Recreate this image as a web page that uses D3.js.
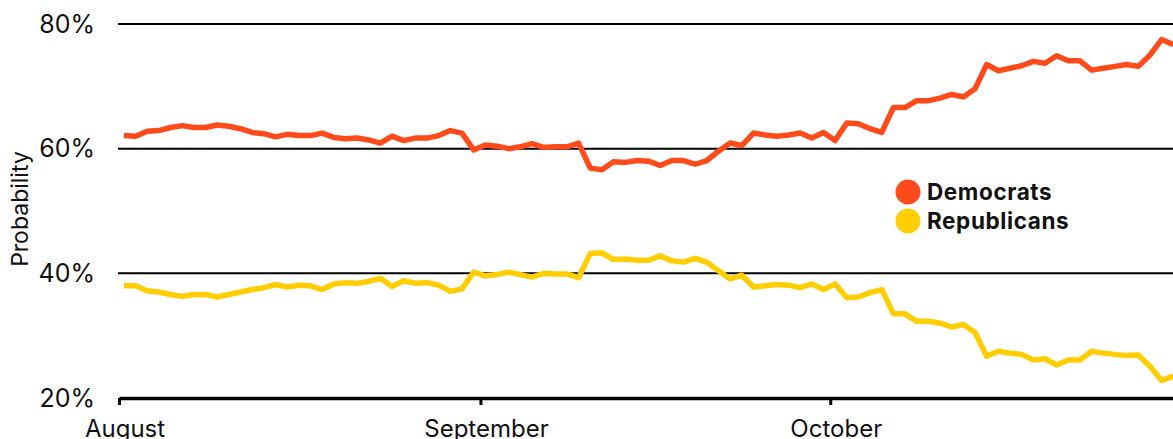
<!DOCTYPE html>
<html>
<head>
<meta charset="utf-8">
<script src="https://cdn.jsdelivr.net/npm/d3@7"></script>
<style>
  body { margin: 0; background: #fff; }
  svg { display: block; font-family: Inter, "Noto Sans", sans-serif; }
</style>
</head>
<body>
<div id="chart"></div>
<script>
const width = 1173;
const height = 439;
const margin = { top: 24, right: 0, bottom: 41, left: 119 };

// daily readings, Aug 1 -> Oct 30
const firstDay = "2020-08-01";
const lastDay = "2020-10-31"; // exclusive

const democrats = [
  62.1, 62.0, 62.8, 62.9, 63.4, 63.7, 63.4, 63.4, 63.8, 63.6,
  63.2, 62.6, 62.4, 61.9, 62.3, 62.1, 62.1, 62.5, 61.8, 61.6,
  61.7, 61.4, 60.9, 62.0, 61.3, 61.7, 61.7, 62.1, 62.9, 62.5,
  59.8, 60.6, 60.4, 60.0, 60.3, 60.8, 60.2, 60.3, 60.3, 60.9,
  56.9, 56.6, 57.9, 57.8, 58.1, 58.0, 57.3, 58.1, 58.1, 57.5,
  58.1, 59.6, 60.9, 60.5, 62.5, 62.2, 62.0, 62.2, 62.5, 61.7,
  62.6, 61.3, 64.1, 64.0, 63.2, 62.6, 66.6, 66.6, 67.7, 67.7,
  68.1, 68.7, 68.3, 69.6, 73.5, 72.5, 72.9, 73.3, 74.0, 73.7,
  74.9, 74.1, 74.1, 72.6, 72.9, 73.2, 73.5, 73.2, 75.0, 77.5,
  76.7
];

const republicans = [
  38.0, 38.0, 37.2, 37.0, 36.6, 36.3, 36.6, 36.6, 36.2, 36.6,
  37.0, 37.4, 37.7, 38.2, 37.8, 38.1, 38.0, 37.4, 38.3, 38.5,
  38.4, 38.7, 39.2, 37.9, 38.8, 38.4, 38.5, 38.1, 37.1, 37.5,
  40.2, 39.6, 39.8, 40.2, 39.8, 39.4, 40.0, 39.9, 39.9, 39.3,
  43.2, 43.3, 42.2, 42.3, 42.1, 42.1, 42.8, 42.0, 41.8, 42.4,
  41.8, 40.4, 39.1, 39.7, 37.8, 38.0, 38.2, 38.1, 37.7, 38.3,
  37.4, 38.3, 36.1, 36.2, 36.9, 37.4, 33.5, 33.5, 32.3, 32.3,
  32.0, 31.4, 31.8, 30.5, 26.7, 27.5, 27.2, 27.0, 26.1, 26.3,
  25.3, 26.1, 26.1, 27.5, 27.2, 27.0, 26.8, 26.9, 25.1, 22.8,
  23.5
];

const yTicks = [20, 40, 60, 80];
const monthTicks = ["2020-08-01", "2020-09-01", "2020-10-01"];
const monthLabels = ["August", "September", "October"];
const seriesNames = ["Democrats", "Republicans"];
const colors = ["#ff4a1a", "#ffcd00"];

const parse = d3.utcParse("%Y-%m-%d");
const days = d3.utcDay.range(parse(firstDay), parse(lastDay))
  .map(d => d3.utcHour.offset(d, 10));

const xScale = d3.scaleUtc()
  .domain([parse("2020-08-01"), parse("2020-11-01")])
  .range([margin.left, margin.left + 92 * 11.66]);

const yScale = d3.scaleLinear()
  .domain([20, 80])
  .range([height - margin.bottom, margin.top]);

const svg = d3.select("#chart")
  .append("svg")
  .attr("width", width)
  .attr("height", height);

// gridlines
svg.append("g")
  .selectAll("line")
  .data(yTicks.filter(t => t > 20))
  .join("line")
  .attr("x1", margin.left - 1)
  .attr("x2", width)
  .attr("y1", d => yScale(d))
  .attr("y2", d => yScale(d))
  .attr("stroke", "#000")
  .attr("stroke-width", 2);

// y labels
const yAxis = d3.axisLeft(yScale)
  .tickValues(yTicks)
  .tickSize(0)
  .tickPadding(24)
  .tickFormat(d => d + "%");

const yAxisGroup = svg.append("g")
  .attr("transform", `translate(${margin.left}, 0)`)
  .call(yAxis);
yAxisGroup.select(".domain").remove();
yAxisGroup.selectAll("text")
  .attr("font-family", "Inter, sans-serif")
  .attr("font-size", 25)
  .attr("fill", "#111");

svg.append("text")
  .attr("transform", `translate(${28}, ${209})rotate(-90)`)
  .attr("text-anchor", "middle")
  .attr("font-size", 23)
  .attr("fill", "#111")
  .text("Probability");

// lines
const line = d3.line()
  .x((d, i) => xScale(days[i]))
  .y(d => yScale(d));

[democrats, republicans].forEach((values, i) => {
  svg.append("path")
    .datum(values)
    .attr("fill", "none")
    .attr("stroke", colors[i])
    .attr("stroke-width", 5.5)
    .attr("stroke-linejoin", "round")
    .attr("d", line);
});

// x axis
const xAxis = d3.axisBottom(xScale)
  .tickValues(monthTicks.map(parse))
  .tickSize(7)
  .tickSizeOuter(0)
  .tickFormat((d, i) => monthLabels[i]);

const xAxisGroup = svg.append("g")
  .attr("transform", `translate(0, ${height - margin.bottom})`)
  .call(xAxis);
xAxisGroup.select(".domain")
  .attr("stroke", "#000")
  .attr("stroke-width", 3.5);
xAxisGroup.selectAll(".tick line")
  .attr("stroke", "#000")
  .attr("stroke-width", 3);
xAxisGroup.selectAll(".tick text")
  .attr("font-family", "Inter, sans-serif")
  .attr("font-size", 24)
  .attr("fill", "#111")
  .attr("dx", 5.5)
  .attr("dy", 0)
  .attr("y", 39);

// legend
const legend = svg.append("g")
  .attr("transform", "translate(908, 192)");

const items = legend.selectAll("g")
  .data(seriesNames)
  .join("g")
  .attr("transform", (d, i) => `translate(0, ${i * 29})`);

items.append("circle")
  .attr("r", 12.5)
  .attr("fill", (d, i) => colors[i]);

items.append("text")
  .attr("x", 19)
  .attr("y", 8)
  .attr("font-size", 22.5)
  .attr("font-weight", 700)
  .attr("letter-spacing", 0.6)
  .attr("fill", "#111")
  .text(d => d);
</script>
</body>
</html>
